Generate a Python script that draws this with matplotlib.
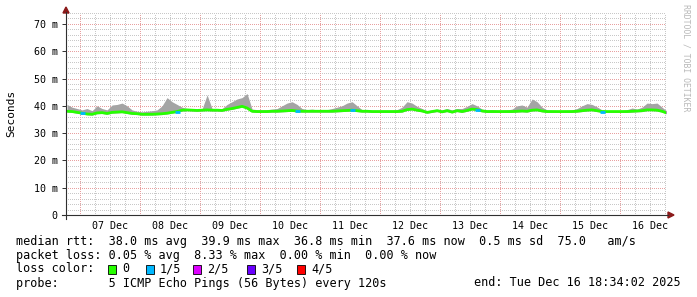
import numpy as np
import matplotlib
matplotlib.use("Agg")
import matplotlib.pyplot as plt
from matplotlib.patches import Rectangle, Polygon
from matplotlib.lines import Line2D

plt.rcParams["lines.scale_dashes"] = False

W, H = 697, 297
MONO = "DejaVu Sans Mono"

# ---------------------------------------------------------
# Data: hours since 07 Dec 00:00, one sample every 2 h
# ---------------------------------------------------------
hours = np.arange(-5, 236, 2)

median_ms = [
    38.0, 37.9, 37.6,
    # 07 Dec
    37.3, 37.0, 36.9, 37.4, 37.5, 37.2, 37.6, 37.7, 37.8, 37.5, 37.2, 37.1,
    # 08 Dec
    36.9, 36.9, 36.9, 37.0, 37.1, 37.3, 37.6, 37.9, 38.4, 38.5, 38.4, 38.3,
    # 09 Dec
    38.4, 38.5, 38.4, 38.4, 38.3, 38.7, 39.0, 39.4, 39.8, 39.2, 38.0, 37.9,
    # 10 Dec
    37.9, 37.9, 38.0, 38.0, 38.1, 38.2, 38.3, 38.1, 38.0, 38.0, 38.0, 38.0,
    # 11 Dec
    38.0, 38.0, 38.0, 38.1, 38.2, 38.3, 38.4, 38.2, 38.0, 38.0, 37.9, 37.9,
    # 12 Dec
    37.9, 37.9, 37.9, 37.9, 38.0, 38.6, 38.8, 38.4, 38.1, 37.6, 37.9, 38.2,
    # 13 Dec
    37.8, 38.2, 37.7, 38.2, 37.9, 38.3, 38.8, 38.6, 38.1, 37.9, 37.9, 37.9,
    # 14 Dec
    37.9, 37.9, 37.9, 38.0, 38.1, 38.0, 38.4, 38.5, 38.1, 37.9, 37.9, 37.9,
    # 15 Dec
    37.9, 37.9, 37.9, 38.0, 38.2, 38.4, 38.5, 38.2, 37.9, 37.9, 37.9, 37.9,
    # 16 Dec
    37.9, 37.9, 38.0, 38.1, 38.2, 38.5, 38.5, 38.4, 38.0, 37.3,
]

smoke_max_ms = [
    40.5, 39.5, 39.0,
    38.5, 39.0, 38.2, 40.0, 39.0, 38.5, 40.3, 40.5, 41.0, 40.0, 38.5, 38.0,
    37.8, 38.0, 38.2, 38.5, 40.0, 43.0, 41.5, 40.5, 39.5, 39.0, 38.8, 38.8,
    38.8, 44.0, 39.0, 38.8, 39.0, 40.5, 41.5, 42.5, 43.0, 44.5, 38.8, 38.6,
    38.5, 38.6, 38.8, 39.0, 40.0, 41.0, 41.5, 40.5, 39.0, 38.6, 38.8, 38.5,
    38.5, 38.6, 39.0, 39.5, 40.0, 41.0, 41.5, 40.0, 38.6, 38.5, 38.4, 38.4,
    38.4, 38.4, 38.4, 38.6, 39.5, 41.5, 41.0, 39.8, 39.0, 38.2, 38.5, 38.8,
    38.5, 39.0, 38.5, 39.0, 39.0, 39.8, 40.8, 40.0, 38.8, 38.5, 38.6, 38.4,
    38.4, 38.5, 38.8, 40.0, 40.3, 39.5, 42.5, 41.5, 39.5, 38.5, 38.4, 38.3,
    38.3, 38.4, 38.5, 39.0, 40.0, 40.8, 40.5, 39.6, 38.5, 38.3, 38.3, 38.3,
    38.3, 38.6, 39.2, 38.8, 39.5, 41.0, 40.8, 41.0, 39.5, 38.0,
]

# samples that had 1/5 packet loss
loss_hours = [1, 39, 87, 109, 159, 209]

day_labels = ["07 Dec", "08 Dec", "09 Dec", "10 Dec", "11 Dec",
              "12 Dec", "13 Dec", "14 Dec", "15 Dec", "16 Dec"]
y_major = [0, 10, 20, 30, 40, 50, 60, 70]
y_labels = ["0", "10 m", "20 m", "30 m", "40 m", "50 m", "60 m", "70 m"]

loss_names = ["0", "1/5", "2/5", "3/5", "4/5"]
loss_colors = ["#26ff00", "#00b8ff", "#dd00ff", "#6a00ff", "#ff0000"]

stats_rtt = "median rtt:  38.0 ms avg  39.9 ms max  36.8 ms min  37.6 ms now  0.5 ms sd  75.0   am/s"
stats_loss = "packet loss: 0.05 % avg  8.33 % max  0.00 % min  0.00 % now"
probe_txt = "probe:       5 ICMP Echo Pings (56 Bytes) every 120s"
end_txt = "end: Tue Dec 16 18:34:02 2025"

T0, T1 = -5.43, 234.57
Y1 = 74

C_MINOR = "#c8c8c8"
C_MAJOR = "#e8a0a0"
C_AXIS = "#303030"
C_ARROW = "#8b1a1a"


def fx(x):
    return x / W


def fy(y):
    return 1 - y / H


fig = plt.figure(figsize=(W / 100, H / 100), dpi=100)
fig.patch.set_facecolor("white")
ax = fig.add_axes([fx(66), fy(215), (666 - 66) / W, (215 - 13) / H])
ax.set_xlim(T0, T1)
ax.set_ylim(0, Y1)
for s in ax.spines.values():
    s.set_visible(False)

# grid: 1px dot, 2px gap (72 pt = 100 px)
dots = (0, (0.72, 1.44))
grid_kw = dict(lw=0.72, ls=dots, zorder=1, antialiased=False)
for v in range(2, Y1 + 1, 2):
    if v % 10:
        ax.axhline(v, color=C_MINOR, **grid_kw)
for v in range(0, 235, 6):
    if v % 24:
        ax.axvline(v, color=C_MINOR, **grid_kw)
for v in y_major[1:]:
    ax.axhline(v, color=C_MAJOR, **grid_kw)
for v in range(0, 235, 24):
    ax.axvline(v, color=C_MAJOR, **grid_kw)

# smoke + median
med = np.array(median_ms)
top = np.array(smoke_max_ms)
ax.fill_between(hours, med - 0.3, top, color="#a4a4a4", lw=0, zorder=2)
ax.plot(hours, med, color=loss_colors[0], lw=2.0, zorder=3)
for h in loss_hours:
    v = med[list(hours).index(h)]
    ax.plot([h - 1, h + 1], [v, v], color=loss_colors[1], lw=2.0,
            zorder=4, solid_capstyle="butt")

# ticks
ax.set_yticks(y_major)
ax.set_yticklabels(y_labels, family=MONO, fontsize=7.2, color="#000000")
ax.set_xticks([12 + 24 * i for i in range(len(day_labels))])
ax.set_xticklabels(day_labels, family=MONO, fontsize=7.2, color="#000000")
ax.tick_params(axis="y", length=3, width=0.7, color=C_AXIS, pad=3)
ax.tick_params(axis="x", length=0, pad=4)

# axes lines & arrows (figure pixel coords)
fig.add_artist(Line2D([fx(66), fx(66)], [fy(219), fy(12)], color=C_AXIS, lw=0.8))
fig.add_artist(Line2D([fx(62), fx(668)], [fy(215), fy(215)], color=C_AXIS, lw=0.8))
fig.add_artist(Polygon([(fx(63), fy(13)), (fx(69), fy(13)), (fx(66), fy(7))],
                       closed=True, color=C_ARROW, transform=fig.transFigure))
fig.add_artist(Polygon([(fx(668), fy(212)), (fx(668), fy(218)), (fx(674), fy(215))],
                       closed=True, color=C_ARROW, transform=fig.transFigure))

fig.text(fx(11), fy(113), "Seconds", rotation=90, family=MONO, fontsize=8,
         ha="center", va="center")
fig.text(fx(686), fy(4), "RRDTOOL / TOBI OETIKER", rotation=270, family=MONO,
         fontsize=5.9, color="#b8b8b8", ha="center", va="top")

# legend rows
fs = 8.5
fig.text(fx(16), fy(241), stats_rtt, family=MONO, fontsize=fs, va="center")
fig.text(fx(16), fy(255), stats_loss, family=MONO, fontsize=fs, va="center")
fig.text(fx(16), fy(269), "loss color:", family=MONO, fontsize=fs, va="center")
box_x = [108, 146, 193, 247, 297]
for bx, name, col in zip(box_x, loss_names, loss_colors):
    fig.add_artist(Rectangle((fx(bx), fy(274)), 8 / W, 9 / H, facecolor=col,
                             edgecolor="black", lw=0.6, transform=fig.transFigure))
    fig.text(fx(bx + 14), fy(269), name, family=MONO, fontsize=fs, va="center")
fig.text(fx(16), fy(283), probe_txt, family=MONO, fontsize=fs, va="center")
fig.text(fx(681), fy(283), end_txt, family=MONO, fontsize=fs, va="center",
         ha="right")

fig.savefig("out.png", dpi=100, facecolor="white")
